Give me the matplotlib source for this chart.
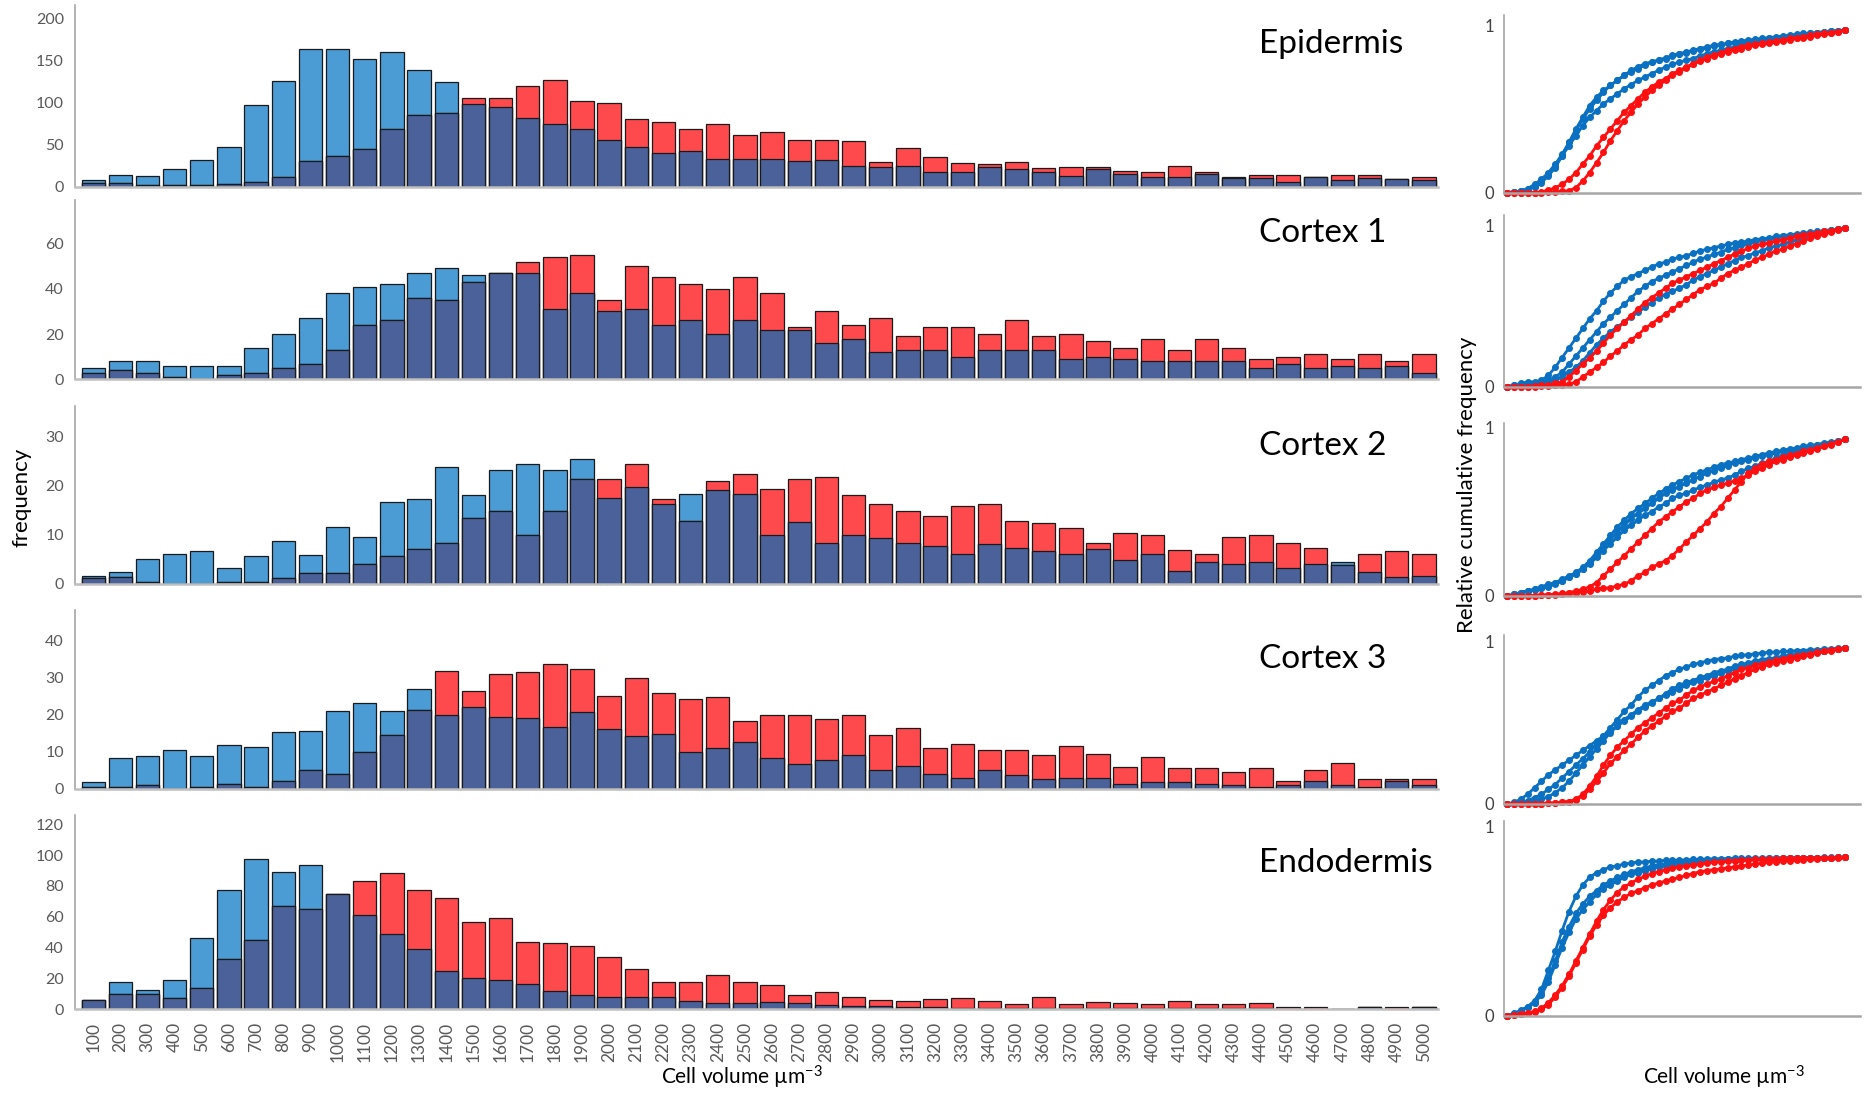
import numpy as np
import matplotlib
matplotlib.use("Agg")
import matplotlib.pyplot as plt

plt.rcParams['font.family'] = ['Lato', 'DejaVu Sans']
plt.rcParams['mathtext.default'] = 'regular'

# ---------------------------------------------------------------- data
volume_bins = [str(v) for v in range(100, 5001, 100)]

tissues = ["Epidermis", "Cortex 1", "Cortex 2", "Cortex 3", "Endodermis"]

epidermis_blue = [8, 14, 13, 21, 32, 47, 97, 126, 164, 164, 152, 160, 139, 125,
                  98, 95, 82, 75, 68, 55, 47, 40, 43, 33, 33,
                  33, 30, 32, 25, 24, 25, 18, 18, 23, 21, 17, 13, 21, 15, 11, 12, 15, 10, 10, 6, 12, 8, 10, 9, 8]
epidermis_red = [4, 4, 2, 2, 2, 3, 6, 12, 30, 36, 45, 69, 85, 88,
                 105, 106, 120, 127, 102, 99, 81, 77, 69, 74, 61,
                 65, 55, 55, 54, 29, 46, 35, 28, 27, 29, 22, 23, 23, 19, 17, 25, 17, 12, 14, 14, 12, 14, 14, 9, 12]

cortex1_blue = [5, 8, 8, 6, 6, 6, 14, 20, 27, 38, 41, 42, 47, 49, 46, 47,
                47, 31, 38, 30, 31, 24, 26, 20, 26, 22, 22, 16, 18, 12, 13, 13, 10, 13, 13, 13,
                9, 10, 9, 8, 8, 8, 8, 5, 7, 5, 6, 5, 6, 3]
cortex1_red = [3, 4, 3, 1, 0, 2, 3, 5, 7, 13, 24, 26, 36, 35, 43, 47,
               52, 54, 55, 35, 50, 45, 42, 40, 45, 38, 23, 30, 24, 27, 19, 23, 23, 20, 26, 19,
               20, 17, 14, 18, 13, 18, 14, 9, 10, 11, 9, 11, 8, 11]

cortex2_blue = [1.6, 2.3, 4.9, 6, 6.7, 3.1, 5.6, 8.6, 5.8, 11.5, 9.5, 16.7, 17.3, 23.7, 18.1, 23.1, 24.3, 23.2, 25.5,
                17.5, 19.7, 16.2, 18.3, 19, 18.3, 10, 12.6, 8.2, 10, 9.2, 8.2, 7.7, 6, 8, 7.2, 6.7, 6, 7,
                4.7, 6, 2.6, 4.3, 3.9, 4.3, 3.2, 3.9, 4.3, 2.4, 1.4, 1.5]
cortex2_red = [1.2, 1.4, 0.4, 0, 0, 0.4, 0.4, 1.1, 2.1, 2.1, 3.9, 5.6, 7.1, 8.2, 13.4, 14.9, 9.9, 14.9, 21.4,
               21.4, 24.3, 17.2, 12.8, 20.9, 22.4, 19.3, 21.4, 21.7, 18, 16.2, 14.7, 13.8, 15.8, 16.2, 12.8, 12.4, 11.3, 8.2,
               10.3, 9.9, 6.9, 6, 9.4, 9.9, 8.2, 7.2, 3.8, 6, 6.6, 6]

cortex3_blue = [1.8, 8.2, 8.9, 10.4, 8.9, 11.7, 11.2, 15.3, 15.6, 21, 23.2, 21, 27,
                19.9, 22.2, 19.4, 19.1, 16.7, 20.7, 16.1, 14.2, 14.7, 9.9, 10.9, 12.6, 8.2, 6.6, 7.7, 9, 5, 6.2,
                4, 3, 5.1, 3.6, 2.7, 3, 3, 1.4, 1.9, 1.9, 1.4, 1.1, 0.4, 1.1, 2.2, 0.9, 0.4, 2, 0.9]
cortex3_red = [0.4, 0.4, 0.9, 0, 0.4, 1.4, 0.4, 2, 5.1, 3.9, 9.9, 14.5, 21.2,
               31.9, 26.5, 30.9, 31.5, 33.8, 32.5, 25, 29.8, 25.9, 24.2, 24.9, 18.3, 19.9, 19.9, 18.8, 19.9, 14.4, 16.3,
               10.9, 12, 10.4, 10.4, 9, 11.5, 9.3, 6, 8.5, 5.5, 5.5, 4.4, 5.5, 2, 5, 6.9, 2.5, 2.5, 2.5]

endodermis_blue = [6, 17.6, 12.4, 18.9, 46, 77.3, 97.6, 89, 93.5, 75,
                   61, 48.7, 39, 24.7, 20.2, 18.9, 16.3, 11.7, 9.1, 7.8, 8.2, 8.2, 5.6, 3.9, 3.9,
                   5, 3.9, 2.6, 2, 2, 1.3, 1.3, 1, 1, 0.7, 0.7, 0.7, 1, 0.7, 0.7, 0.7, 0.7, 0.7, 1, 0.5,
                   0.5, 0.5, 1.3, 0.5, 1.3]
endodermis_red = [6, 9.8, 9.8, 7.2, 13.7, 32.5, 45, 67.1, 65, 75,
                  83.1, 88.3, 77.7, 72.5, 56.7, 59.3, 43.7, 43.1, 41.1, 34.2, 26, 17.6, 17.6, 22.1, 17.6,
                  15.6, 9.1, 11.1, 7.8, 5.9, 5.2, 6.5, 7.2, 5.2, 3.3, 8.2, 3.3, 4.6, 3.9, 3.3, 5.2, 3.3, 3.3, 3.9, 1.3,
                  1.3, 0.5, 1.3, 1.3, 1.3]

# relative cumulative frequency of each replicate, per volume bin
epidermis_cum_blue = [
    [0, 0.005, 0.01, 0.015, 0.035, 0.06, 0.10, 0.15, 0.22, 0.30, 0.38, 0.45, 0.52, 0.57, 0.61, 0.64, 0.67, 0.70, 0.73, 0.75,
     0.77, 0.78, 0.79, 0.80, 0.82, 0.83, 0.84, 0.85, 0.86, 0.87, 0.88, 0.885, 0.89, 0.90, 0.905, 0.91, 0.915, 0.92, 0.925, 0.93,
     0.935, 0.94, 0.945, 0.95, 0.95, 0.955, 0.96, 0.965, 0.967, 0.97],
    [0, 0.005, 0.01, 0.025, 0.05, 0.08, 0.12, 0.17, 0.23, 0.30, 0.37, 0.44, 0.50, 0.55, 0.60, 0.64, 0.67, 0.70, 0.72, 0.74,
     0.76, 0.78, 0.79, 0.805, 0.815, 0.825, 0.835, 0.845, 0.855, 0.865, 0.875, 0.88, 0.89, 0.895, 0.90, 0.905, 0.91, 0.915, 0.92, 0.925,
     0.93, 0.935, 0.94, 0.945, 0.95, 0.955, 0.96, 0.963, 0.966, 0.97],
    [0, 0.005, 0.01, 0.02, 0.04, 0.07, 0.11, 0.16, 0.22, 0.28, 0.34, 0.40, 0.45, 0.49, 0.53, 0.56, 0.59, 0.62, 0.645, 0.67,
     0.69, 0.71, 0.73, 0.75, 0.765, 0.78, 0.79, 0.80, 0.815, 0.83, 0.84, 0.85, 0.86, 0.87, 0.88, 0.89, 0.895, 0.90, 0.91, 0.915,
     0.92, 0.93, 0.935, 0.94, 0.945, 0.95, 0.955, 0.96, 0.965, 0.97],
]
epidermis_cum_red = [
    [0, 0, 0, 0, 0, 0.005, 0.015, 0.03, 0.05, 0.08, 0.12, 0.17, 0.22, 0.28, 0.33, 0.38, 0.43, 0.48, 0.52, 0.56,
     0.60, 0.63, 0.66, 0.68, 0.71, 0.73, 0.75, 0.77, 0.79, 0.81, 0.82, 0.835, 0.85, 0.86, 0.87, 0.88, 0.885, 0.89, 0.90, 0.905,
     0.91, 0.92, 0.925, 0.93, 0.94, 0.945, 0.95, 0.955, 0.96, 0.97],
    [0, 0, 0, 0, 0, 0, 0.002, 0.005, 0.008, 0.012, 0.03, 0.07, 0.12, 0.18, 0.24, 0.31, 0.37, 0.43, 0.48, 0.53,
     0.57, 0.61, 0.64, 0.67, 0.70, 0.72, 0.745, 0.765, 0.785, 0.80, 0.815, 0.83, 0.84, 0.85, 0.86, 0.87, 0.88, 0.885, 0.89, 0.90,
     0.905, 0.91, 0.92, 0.925, 0.93, 0.94, 0.945, 0.955, 0.96, 0.97],
]

cortex1_cum_blue = [
    [0, 0.01, 0.02, 0.03, 0.03, 0.04, 0.07, 0.12, 0.18, 0.24, 0.30, 0.36, 0.42, 0.47, 0.53, 0.58, 0.62, 0.66, 0.68, 0.70,
     0.72, 0.74, 0.76, 0.77, 0.79, 0.80, 0.81, 0.825, 0.84, 0.85, 0.86, 0.87, 0.88, 0.89, 0.895, 0.90, 0.91, 0.915, 0.92, 0.93,
     0.935, 0.94, 0.945, 0.95, 0.955, 0.96, 0.965, 0.97, 0.975, 0.98],
    [0, 0.01, 0.015, 0.02, 0.025, 0.03, 0.04, 0.06, 0.09, 0.14, 0.19, 0.24, 0.29, 0.34, 0.39, 0.43, 0.47, 0.51, 0.55, 0.59,
     0.62, 0.65, 0.67, 0.69, 0.71, 0.73, 0.75, 0.77, 0.79, 0.80, 0.82, 0.83, 0.85, 0.86, 0.875, 0.885, 0.895, 0.905, 0.915, 0.92,
     0.93, 0.935, 0.94, 0.945, 0.95, 0.955, 0.96, 0.97, 0.975, 0.98],
    [0, 0.005, 0.01, 0.015, 0.02, 0.025, 0.03, 0.04, 0.06, 0.09, 0.12, 0.16, 0.21, 0.26, 0.30, 0.34, 0.37, 0.40, 0.43, 0.46,
     0.49, 0.52, 0.55, 0.57, 0.59, 0.61, 0.63, 0.66, 0.68, 0.70, 0.72, 0.74, 0.76, 0.78, 0.80, 0.81, 0.83, 0.84, 0.86, 0.87,
     0.88, 0.895, 0.91, 0.92, 0.935, 0.945, 0.955, 0.965, 0.975, 0.98],
]
cortex1_cum_red = [
    [0, 0, 0, 0, 0.005, 0.01, 0.01, 0.02, 0.03, 0.06, 0.10, 0.14, 0.18, 0.22, 0.27, 0.32, 0.36, 0.40, 0.44, 0.48,
     0.52, 0.55, 0.58, 0.61, 0.64, 0.66, 0.68, 0.70, 0.72, 0.74, 0.76, 0.78, 0.80, 0.82, 0.84, 0.855, 0.87, 0.88, 0.89, 0.90,
     0.91, 0.92, 0.93, 0.94, 0.945, 0.95, 0.96, 0.965, 0.975, 0.98],
    [0, 0, 0, 0, 0, 0.002, 0.005, 0.008, 0.01, 0.015, 0.03, 0.06, 0.09, 0.12, 0.15, 0.19, 0.22, 0.26, 0.29, 0.32,
     0.36, 0.39, 0.42, 0.45, 0.48, 0.51, 0.54, 0.57, 0.60, 0.62, 0.64, 0.67, 0.70, 0.72, 0.74, 0.76, 0.785, 0.80, 0.82, 0.84,
     0.85, 0.87, 0.885, 0.90, 0.92, 0.93, 0.945, 0.955, 0.97, 0.98],
]

cortex2_cum_blue = [
    [0, 0.01, 0.02, 0.03, 0.04, 0.055, 0.07, 0.08, 0.10, 0.12, 0.14, 0.17, 0.21, 0.26, 0.31, 0.36, 0.41, 0.45, 0.49, 0.52,
     0.55, 0.58, 0.61, 0.635, 0.66, 0.68, 0.70, 0.72, 0.735, 0.75, 0.765, 0.78, 0.79, 0.80, 0.81, 0.82, 0.83, 0.84, 0.85, 0.86,
     0.865, 0.875, 0.88, 0.89, 0.895, 0.90, 0.91, 0.915, 0.92, 0.93],
    [0, 0.01, 0.02, 0.03, 0.04, 0.05, 0.06, 0.075, 0.09, 0.11, 0.13, 0.16, 0.20, 0.24, 0.29, 0.34, 0.38, 0.42, 0.46, 0.49,
     0.52, 0.55, 0.58, 0.61, 0.63, 0.65, 0.67, 0.69, 0.71, 0.73, 0.745, 0.76, 0.775, 0.79, 0.80, 0.81, 0.82, 0.83, 0.84, 0.85,
     0.86, 0.87, 0.875, 0.88, 0.89, 0.895, 0.905, 0.91, 0.92, 0.93],
    [0, 0.01, 0.02, 0.03, 0.035, 0.045, 0.055, 0.07, 0.09, 0.11, 0.13, 0.16, 0.19, 0.23, 0.27, 0.31, 0.35, 0.39, 0.42, 0.45,
     0.48, 0.50, 0.53, 0.55, 0.58, 0.60, 0.61, 0.63, 0.645, 0.66, 0.675, 0.69, 0.70, 0.72, 0.74, 0.76, 0.77, 0.79, 0.80, 0.82,
     0.835, 0.85, 0.86, 0.87, 0.88, 0.89, 0.90, 0.91, 0.92, 0.93],
]
cortex2_cum_red = [
    [0, 0, 0, 0, 0.002, 0.004, 0.006, 0.01, 0.015, 0.02, 0.03, 0.04, 0.055, 0.08, 0.12, 0.16, 0.20, 0.24, 0.28, 0.32,
     0.36, 0.40, 0.44, 0.47, 0.50, 0.53, 0.56, 0.58, 0.61, 0.63, 0.645, 0.66, 0.67, 0.685, 0.70, 0.72, 0.74, 0.76, 0.78, 0.80,
     0.81, 0.825, 0.84, 0.85, 0.86, 0.875, 0.89, 0.90, 0.915, 0.93],
    [0, 0, 0, 0, 0.002, 0.004, 0.006, 0.008, 0.01, 0.015, 0.02, 0.025, 0.03, 0.04, 0.045, 0.05, 0.06, 0.07, 0.09, 0.12,
     0.14, 0.17, 0.19, 0.21, 0.24, 0.28, 0.32, 0.36, 0.40, 0.44, 0.49, 0.53, 0.58, 0.63, 0.68, 0.73, 0.76, 0.785, 0.80, 0.81,
     0.825, 0.835, 0.845, 0.86, 0.87, 0.88, 0.89, 0.905, 0.915, 0.93],
]

cortex3_cum_blue = [
    [0, 0.01, 0.03, 0.06, 0.10, 0.14, 0.18, 0.21, 0.24, 0.27, 0.30, 0.33, 0.36, 0.39, 0.42, 0.45, 0.48, 0.51, 0.54, 0.57,
     0.60, 0.62, 0.65, 0.68, 0.71, 0.73, 0.75, 0.76, 0.78, 0.79, 0.81, 0.82, 0.83, 0.85, 0.86, 0.87, 0.88, 0.89, 0.895, 0.90,
     0.91, 0.915, 0.92, 0.925, 0.93, 0.935, 0.94, 0.95, 0.955, 0.96],
    [0, 0.005, 0.01, 0.02, 0.04, 0.06, 0.09, 0.12, 0.16, 0.20, 0.24, 0.28, 0.32, 0.37, 0.42, 0.47, 0.52, 0.57, 0.61, 0.66,
     0.70, 0.73, 0.76, 0.79, 0.81, 0.83, 0.845, 0.86, 0.87, 0.88, 0.89, 0.895, 0.90, 0.91, 0.915, 0.92, 0.925, 0.93, 0.935, 0.935,
     0.94, 0.94, 0.945, 0.945, 0.95, 0.95, 0.955, 0.955, 0.96, 0.96],
    [0, 0.003, 0.006, 0.01, 0.02, 0.03, 0.045, 0.07, 0.10, 0.14, 0.19, 0.24, 0.29, 0.34, 0.39, 0.44, 0.48, 0.52, 0.55, 0.58,
     0.61, 0.63, 0.65, 0.67, 0.69, 0.71, 0.73, 0.75, 0.76, 0.78, 0.79, 0.805, 0.82, 0.83, 0.845, 0.86, 0.87, 0.88, 0.89, 0.90,
     0.91, 0.915, 0.92, 0.925, 0.93, 0.935, 0.94, 0.95, 0.955, 0.96],
]
cortex3_cum_red = [
    [0, 0, 0, 0, 0, 0.002, 0.004, 0.006, 0.01, 0.015, 0.03, 0.06, 0.11, 0.17, 0.24, 0.30, 0.35, 0.39, 0.43, 0.47,
     0.50, 0.53, 0.56, 0.59, 0.62, 0.64, 0.67, 0.70, 0.72, 0.74, 0.755, 0.77, 0.79, 0.81, 0.83, 0.84, 0.855, 0.865, 0.875, 0.885,
     0.895, 0.905, 0.91, 0.92, 0.925, 0.935, 0.94, 0.95, 0.955, 0.96],
    [0, 0, 0, 0, 0, 0.002, 0.004, 0.006, 0.01, 0.015, 0.025, 0.05, 0.09, 0.14, 0.19, 0.25, 0.29, 0.33, 0.37, 0.41,
     0.45, 0.48, 0.51, 0.54, 0.57, 0.59, 0.62, 0.65, 0.67, 0.69, 0.71, 0.73, 0.75, 0.77, 0.79, 0.81, 0.83, 0.845, 0.86, 0.87,
     0.88, 0.89, 0.90, 0.91, 0.92, 0.93, 0.94, 0.945, 0.955, 0.96],
]

endodermis_cum_blue = [
    [0, 0.01, 0.02, 0.05, 0.08, 0.14, 0.24, 0.34, 0.45, 0.55, 0.63, 0.69, 0.73, 0.755, 0.77, 0.785, 0.79, 0.80, 0.805, 0.81,
     0.81, 0.815, 0.815, 0.82, 0.82, 0.82, 0.822, 0.824, 0.825, 0.826, 0.827, 0.828, 0.829, 0.83, 0.83, 0.83, 0.831, 0.831, 0.832, 0.832,
     0.833, 0.833, 0.833, 0.834, 0.834, 0.834, 0.835, 0.835, 0.835, 0.835],
    [0, 0.01, 0.025, 0.045, 0.07, 0.12, 0.20, 0.29, 0.39, 0.47, 0.54, 0.59, 0.63, 0.66, 0.69, 0.71, 0.73, 0.745, 0.76, 0.77,
     0.78, 0.79, 0.795, 0.80, 0.805, 0.81, 0.812, 0.815, 0.817, 0.82, 0.822, 0.823, 0.824, 0.825, 0.826, 0.827, 0.828, 0.829, 0.83, 0.83,
     0.831, 0.831, 0.832, 0.832, 0.833, 0.833, 0.834, 0.834, 0.835, 0.835],
    [0, 0.015, 0.03, 0.05, 0.07, 0.11, 0.18, 0.27, 0.36, 0.44, 0.51, 0.56, 0.60, 0.64, 0.67, 0.69, 0.71, 0.73, 0.745, 0.755,
     0.765, 0.775, 0.785, 0.79, 0.795, 0.80, 0.805, 0.81, 0.812, 0.815, 0.817, 0.819, 0.82, 0.822, 0.823, 0.824, 0.825, 0.826, 0.827, 0.828,
     0.829, 0.83, 0.83, 0.831, 0.832, 0.833, 0.833, 0.834, 0.835, 0.835],
]
endodermis_cum_red = [
    [0, 0.005, 0.01, 0.015, 0.02, 0.035, 0.06, 0.10, 0.15, 0.21, 0.28, 0.35, 0.42, 0.48, 0.53, 0.57, 0.60, 0.625, 0.645, 0.66,
     0.675, 0.69, 0.70, 0.71, 0.72, 0.73, 0.74, 0.75, 0.76, 0.765, 0.77, 0.775, 0.78, 0.785, 0.79, 0.795, 0.80, 0.805, 0.81, 0.812,
     0.815, 0.818, 0.82, 0.823, 0.825, 0.828, 0.83, 0.832, 0.834, 0.835],
    [0, 0.005, 0.01, 0.015, 0.025, 0.04, 0.07, 0.11, 0.16, 0.22, 0.29, 0.36, 0.43, 0.50, 0.56, 0.61, 0.65, 0.68, 0.70, 0.72,
     0.735, 0.75, 0.76, 0.77, 0.78, 0.785, 0.79, 0.795, 0.80, 0.805, 0.81, 0.812, 0.815, 0.818, 0.82, 0.822, 0.824, 0.826, 0.828, 0.829,
     0.83, 0.83, 0.831, 0.832, 0.832, 0.833, 0.834, 0.834, 0.835, 0.835],
]

histograms = [
    (epidermis_blue, epidermis_red),
    (cortex1_blue, cortex1_red),
    (cortex2_blue, cortex2_red),
    (cortex3_blue, cortex3_red),
    (endodermis_blue, endodermis_red),
]
cumulative = [
    (epidermis_cum_blue, epidermis_cum_red),
    (cortex1_cum_blue, cortex1_cum_red),
    (cortex2_cum_blue, cortex2_cum_red),
    (cortex3_cum_blue, cortex3_cum_red),
    (endodermis_cum_blue, endodermis_cum_red),
]
freq_ticks = [
    [0, 50, 100, 150, 200],
    [0, 20, 40, 60],
    [0, 10, 20, 30],
    [0, 10, 20, 30, 40],
    [0, 20, 40, 60, 80, 100, 120],
]

# ---------------------------------------------------------------- layout / style
W, H = 1871, 1094
LIGHT_BLUE = "#4b9bd5"
DARK_BLUE = "#4a6299"
RED_BAR = "#ff4a4d"
LINE_BLUE = "#0a70c2"
LINE_RED = "#ff1010"
TICK_GREY = "#595959"

# (bottom px, top px, y max) for histogram panels
hist_rows = [(186.7, 5, 216), (379.4, 200.4, 79), (583.5, 405.7, 36.3),
             (788.7, 609.7, 48.4), (1009.4, 815, 126)]
# (bottom px, top px, y max) for cumulative panels
cum_rows = [(192.7, 15, 1.06), (386.7, 215, 1.062), (596, 423, 1.028),
            (804, 635, 1.041), (1016, 820.7, 1.028)]
title_y = [44, 233, 446, 659, 863]

fig = plt.figure(figsize=(W / 100, H / 100), dpi=100)


def frac_box(x0, x1, ybot, ytop):
    return [x0 / W, 1 - ybot / H, (x1 - x0) / W, (ybot - ytop) / H]


def style_axes(ax, left_col="#a6a6a6", bottom_col="#bfbfbf"):
    for s in ("top", "right"):
        ax.spines[s].set_visible(False)
    ax.spines["left"].set_color(left_col)
    ax.spines["left"].set_linewidth(1.2)
    ax.spines["bottom"].set_color(bottom_col)
    ax.spines["bottom"].set_linewidth(1.8)


x = np.arange(len(volume_bins))
bar_w = 0.86

for i, ((blue, red), (ybot, ytop, ymax)) in enumerate(zip(histograms, hist_rows)):
    ax = fig.add_axes(frac_box(75, 1438, ybot, ytop))
    blue = np.asarray(blue, float)
    red = np.asarray(red, float)
    kw = dict(width=bar_w, edgecolor="#1a1a1a", linewidth=0.9)
    ax.bar(x, blue, color=LIGHT_BLUE, **kw)
    ax.bar(x, red, color=RED_BAR, **kw)
    ax.bar(x, np.minimum(blue, red), color=DARK_BLUE, **kw)
    ax.set_xlim(-0.67, 49.52)
    ax.set_ylim(0, ymax)
    ax.set_yticks(freq_ticks[i])
    ax.tick_params(axis="y", length=0, pad=8, labelsize=11.5, labelcolor=TICK_GREY)
    if i == len(histograms) - 1:
        ax.set_xticks(x)
        ax.set_xticklabels(volume_bins, rotation=90, va="top")
        ax.tick_params(axis="x", length=0, pad=9, labelsize=12.5, labelcolor=TICK_GREY)
    else:
        ax.set_xticks([])
    style_axes(ax)
    fig.text(1259 / W, 1 - title_y[i] / H, tissues[i], ha="left", va="center",
             fontsize=24, color="black")

for i, ((blues, reds), (ybot, ytop, ymax)) in enumerate(zip(cumulative, cum_rows)):
    ax = fig.add_axes(frac_box(1504, 1860, ybot, ytop))
    for series in blues:
        ax.plot(x, series, color=LINE_BLUE, lw=2.0, marker="o", ms=4.0, clip_on=False)
    for series in reds:
        ax.plot(x, series, color=LINE_RED, lw=2.0, marker="o", ms=4.0, clip_on=False)
    ax.set_xlim(-0.43, 51.2)
    ax.set_ylim(0, ymax)
    ax.set_xticks([])
    ax.set_yticks([0, 1])
    ax.set_yticklabels(["0", "1"])
    ax.tick_params(axis="y", length=0, pad=7, labelsize=12, labelcolor="#404040")
    style_axes(ax, left_col="#a6a6a6", bottom_col="#a6a6a6")

fig.text(21.5 / W, 1 - 497.5 / H, "frequency", rotation=90, ha="center", va="center",
         fontsize=16)
fig.text(1467 / W, 1 - 485 / H, "Relative cumulative frequency", rotation=90,
         ha="center", va="center", fontsize=16)
fig.text(742 / W, 1 - 1077 / H, r"Cell volume µm$^{-3}$", ha="center", va="center",
         fontsize=15)
fig.text(1724 / W, 1 - 1077 / H, r"Cell volume µm$^{-3}$", ha="center", va="center",
         fontsize=15)

fig.savefig("out.png", dpi=100, facecolor="white")
